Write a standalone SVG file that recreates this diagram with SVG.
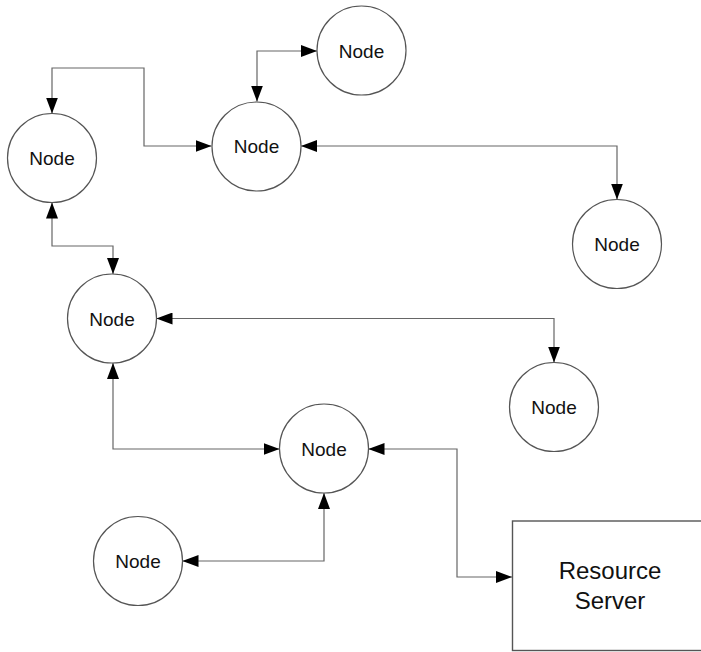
<svg xmlns="http://www.w3.org/2000/svg" width="701" height="652" viewBox="0 0 701 652">
<style>
.node circle{fill:#fff;stroke:#555;stroke-width:1.2}
.node rect{fill:#fff;stroke:#555;stroke-width:1.4}
.lbl{font-family:"Liberation Sans",Arial,sans-serif;font-size:19px;fill:#111;text-anchor:middle}
.big{font-size:24px}
.conn path{fill:none;stroke:#666;stroke-width:1.2;marker-start:url(#ah);marker-end:url(#ah)}
</style>
<defs>
<marker id="ah" markerUnits="userSpaceOnUse" markerWidth="16" markerHeight="12" refX="16" refY="6" orient="auto-start-reverse">
<path d="M0,0 L16,6 L0,12 z" fill="#000"/>
</marker>
</defs>
<rect width="701" height="652" fill="#fff"/>
<g class="conn" id="connectors">
<path d="M52,113.5 V68 H144 V146 H211.5"/>
<path d="M257,101.5 V51 H317"/>
<path d="M301,146 H617 V199.5"/>
<path d="M52,202.5 V246 H113 V274"/>
<path d="M156.5,318.5 H554 V362.5"/>
<path d="M113,363 V449 H279.5"/>
<path d="M324,493 V561 H182.5"/>
<path d="M368.5,449 H457 V577 H512"/>
</g>
<g class="node" id="nodeA"><circle cx="52" cy="158" r="44.5"/><text class="lbl" x="52" y="165">Node</text></g>
<g class="node" id="nodeB"><circle cx="256.5" cy="146.5" r="44.5"/><text class="lbl" x="256.5" y="153">Node</text></g>
<g class="node" id="nodeC"><circle cx="361.5" cy="50.5" r="44.5"/><text class="lbl" x="361.5" y="57.5">Node</text></g>
<g class="node" id="nodeD"><circle cx="617" cy="244" r="44.5"/><text class="lbl" x="617" y="251">Node</text></g>
<g class="node" id="nodeE"><circle cx="112" cy="318.5" r="44.5"/><text class="lbl" x="112" y="325.5">Node</text></g>
<g class="node" id="nodeF"><circle cx="554" cy="407" r="44.5"/><text class="lbl" x="554" y="414">Node</text></g>
<g class="node" id="nodeG"><circle cx="324" cy="448.5" r="44.5"/><text class="lbl" x="324" y="455.5">Node</text></g>
<g class="node" id="nodeH"><circle cx="138" cy="561" r="44.5"/><text class="lbl" x="138" y="568">Node</text></g>
<g class="node" id="server"><rect x="512.5" y="521" width="210" height="129.5"/><text class="lbl big" x="610" y="579">Resource</text><text class="lbl big" x="610" y="609">Server</text></g>
</svg>
